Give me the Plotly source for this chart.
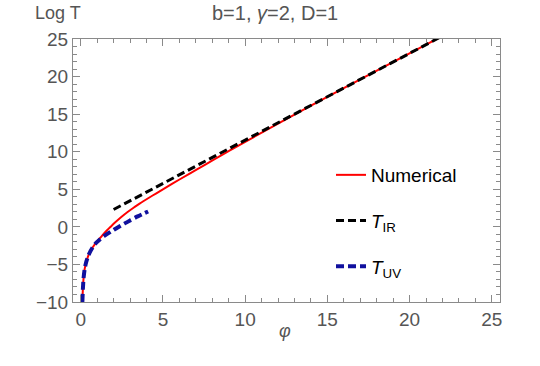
import plotly.graph_objects as go

# numerical solution, log T vs phi
phi_num = [0.1, 0.13, 0.17, 0.24, 0.33, 0.44, 0.6, 0.75, 0.95, 1.15, 1.34, 1.6, 1.84, 2.05,
           2.45, 2.85, 3.26, 3.58, 4.2, 4.6, 5.6, 6.6, 7.63, 8.6, 9.65, 10.5, 12.0, 14.0,
           17.0, 22.0]
logT_num = [-10.0, -8.3, -6.9, -5.6, -4.7, -3.95, -3.2, -2.65, -2.05, -1.55, -1.07, -0.46, 0.06,
            0.5, 1.28, 1.98, 2.62, 3.09, 3.94, 4.47, 5.78, 7.06, 8.36, 9.58, 10.88, 11.92, 13.75,
            16.14, 19.63, 25.4]

# IR asymptote
phi_ir = [2.0, 22.0]
logT_ir = [2.31, 25.4]

# UV asymptote
phi_uv = [0.1, 0.13, 0.17, 0.24, 0.33, 0.44, 0.6, 0.75, 0.95, 1.13, 1.4, 1.84, 2.2, 2.65, 3.0,
          3.46, 4.1]
logT_uv = [-10.0, -8.3, -6.9, -5.6, -4.7, -3.95, -3.2, -2.65, -2.1, -1.74, -1.25, -0.63, -0.15,
           0.43, 0.86, 1.39, 2.05]

x_ticks = [0, 5, 10, 15, 20, 25]
y_ticks = [-10, -5, 0, 5, 10, 15, 20, 25]

FONT = "Liberation Sans, Arial, sans-serif"
GRAY = "#555555"
FRAME = "#8a8a8a"

W, H = 540, 366
L, R, T, B = 73, 40, 39, 64

fig = go.Figure()
fig.add_trace(go.Scatter(x=phi_num, y=logT_num, mode="lines", name="Numerical",
                         legendgroup="a", line=dict(color="#ff0000", width=2, shape="spline",
                                                    smoothing=1.0)))
fig.add_trace(go.Scatter(x=phi_ir, y=logT_ir, mode="lines", name="<i>T</i><sub>IR</sub>",
                         legendgroup="b", line=dict(color="black", width=3, dash="8px,4px")))
fig.add_trace(go.Scatter(x=phi_uv, y=logT_uv, mode="lines", name="<i>T</i><sub>UV</sub>",
                         legendgroup="c", line=dict(color="#10109e", width=4, dash="8px,4px",
                                                    shape="spline", smoothing=0.6)))

axis_common = dict(
    showgrid=False, zeroline=False, showline=True, linecolor=FRAME, linewidth=1,
    mirror="ticks", ticks="inside", ticklen=7, tickcolor=FRAME, tickwidth=1,
    tickfont=dict(family=FONT, size=19, color=GRAY),
    minor=dict(ticks="inside", dtick=1, ticklen=4, tickcolor=FRAME),
)

fig.update_xaxes(range=[-0.47, 25.5], tickvals=x_ticks, automargin=False, **axis_common)
fig.update_yaxes(range=[-10, 25], tickvals=y_ticks, automargin=False, **axis_common)


def pix(px_, py_):
    # screen pixel position -> paper coords
    return (px_ - L) / (W - L - R), (H - B - py_) / (H - T - B)


labels = [("Log T", 33, 13, "left", 18), ("b=1, <i>γ</i>=2, D=1", 275, 13, "center", 20),
          ("<i>φ</i>", 285, 331, "center", 18)]
annotations = []
for text, px_, py_, anchor, size in labels:
    ax, ay = pix(px_, py_)
    annotations.append(dict(text=text, xref="paper", yref="paper", x=ax, y=ay,
                            xanchor=anchor, yanchor="middle", showarrow=False,
                            font=dict(family=FONT, size=size, color=GRAY)))

lx, ly = pix(331, 156)
fig.update_layout(
    width=W, height=H,
    margin=dict(l=L, r=R, t=T, b=B, autoexpand=False),
    plot_bgcolor="white", paper_bgcolor="white",
    showlegend=True,
    legend=dict(x=lx, y=ly, xanchor="left", yanchor="top",
                bgcolor="rgba(0,0,0,0)", tracegroupgap=18, itemwidth=30,
                font=dict(family=FONT, size=19, color="black")),
    annotations=annotations,
)

# drop the default page margin so the figure sits at the window's corner
fig.write_html("out.html", config={"displayModeBar": False},
               post_script="document.body.style.margin='0';")
